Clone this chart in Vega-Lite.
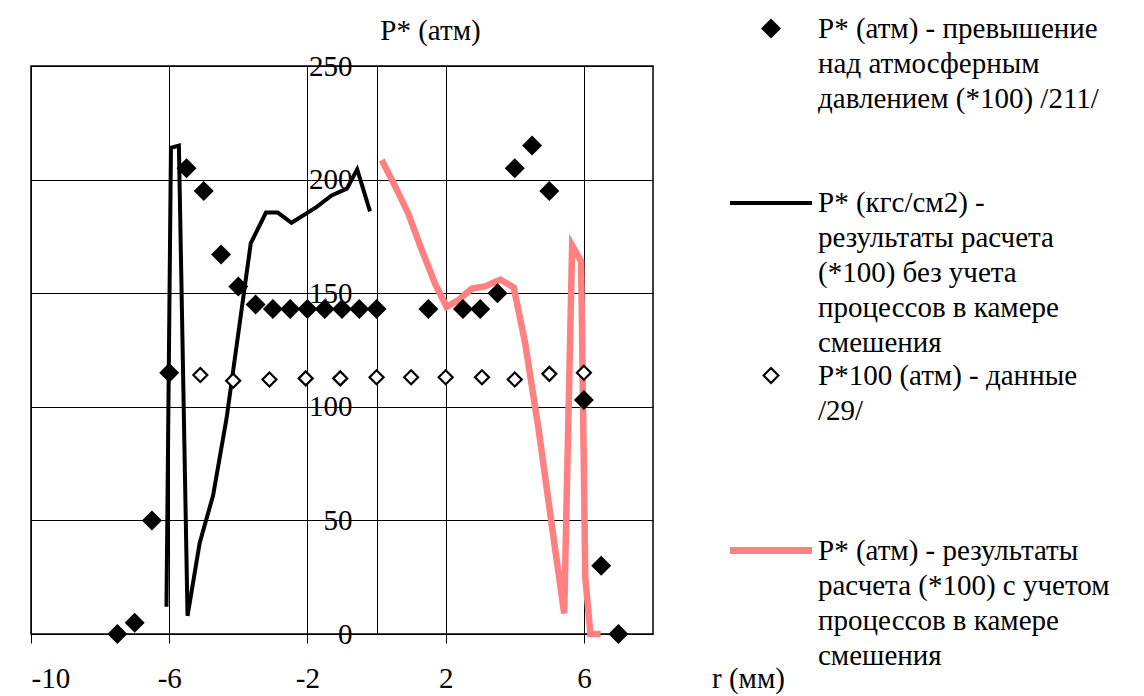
{
  "$schema": "https://vega.github.io/schema/vega-lite/v6.json",
  "width": 622,
  "height": 568,
  "autosize": {"type": "none"},
  "padding": {"left": 31, "top": 66, "right": 491, "bottom": 62},
  "background": "white",
  "config": {
    "font": "Liberation Serif",
    "view": {"stroke": "black", "strokeWidth": 1.5},
    "style": {"guide-label": {"lineHeight": 35}},
    "axis": {"labelFont": "Liberation Serif", "titleFont": "Liberation Serif", "labelFontSize": 29, "titleFontSize": 29, "titleFontWeight": "normal", "labelColor": "black", "titleColor": "black", "domainColor": "black", "tickColor": "black", "gridColor": "black", "gridOpacity": 1, "gridWidth": 1},
    "legend": {"labelFont": "Liberation Serif", "labelFontSize": 29, "labelColor": "black", "labelLimit": 500}
  },
  "datasets": {
    "pts": [
      {"s": "a", "r": -7.5, "p": 0}, {"s": "a", "r": -7, "p": 5}, {"s": "a", "r": -6.5, "p": 50}, {"s": "a", "r": -6, "p": 115},
      {"s": "a", "r": -5.5, "p": 205}, {"s": "a", "r": -5, "p": 195}, {"s": "a", "r": -4.5, "p": 167}, {"s": "a", "r": -4, "p": 153},
      {"s": "a", "r": -3.5, "p": 145}, {"s": "a", "r": -3, "p": 143}, {"s": "a", "r": -2.5, "p": 143}, {"s": "a", "r": -2, "p": 143},
      {"s": "a", "r": -1.5, "p": 143}, {"s": "a", "r": -1, "p": 143}, {"s": "a", "r": -0.5, "p": 143}, {"s": "a", "r": 0, "p": 143},
      {"s": "a", "r": 1.5, "p": 143}, {"s": "a", "r": 2.5, "p": 143}, {"s": "a", "r": 3, "p": 143}, {"s": "a", "r": 3.5, "p": 150},
      {"s": "a", "r": 4, "p": 205}, {"s": "a", "r": 4.5, "p": 215}, {"s": "a", "r": 5, "p": 195}, {"s": "a", "r": 6, "p": 103},
      {"s": "a", "r": 6.5, "p": 30}, {"s": "a", "r": 7, "p": 0}
    ],
    "open": [
      {"s": "c", "r": -6, "p": 115}, {"s": "c", "r": -5.1, "p": 114}, {"s": "c", "r": -4.15, "p": 111.5}, {"s": "c", "r": -3.1, "p": 112},
      {"s": "c", "r": -2.05, "p": 112.5}, {"s": "c", "r": -1.05, "p": 112.5}, {"s": "c", "r": 0, "p": 113}, {"s": "c", "r": 1, "p": 113},
      {"s": "c", "r": 2, "p": 113}, {"s": "c", "r": 3.05, "p": 113}, {"s": "c", "r": 4, "p": 112}, {"s": "c", "r": 5, "p": 114.5},
      {"s": "c", "r": 6, "p": 115}
    ],
    "black": [
      {"s": "b", "i": 0, "r": -6.08, "p": 12}, {"s": "b", "i": 1, "r": -5.95, "p": 214}, {"s": "b", "i": 2, "r": -5.72, "p": 215},
      {"s": "b", "i": 3, "r": -5.47, "p": 8}, {"s": "b", "i": 4, "r": -5.12, "p": 40}, {"s": "b", "i": 5, "r": -4.73, "p": 61},
      {"s": "b", "i": 6, "r": -4.34, "p": 95}, {"s": "b", "i": 7, "r": -3.64, "p": 172}, {"s": "b", "i": 8, "r": -3.2, "p": 185.5},
      {"s": "b", "i": 9, "r": -2.86, "p": 185.5}, {"s": "b", "i": 10, "r": -2.46, "p": 181}, {"s": "b", "i": 11, "r": -1.73, "p": 188},
      {"s": "b", "i": 12, "r": -1.3, "p": 193}, {"s": "b", "i": 13, "r": -0.86, "p": 196}, {"s": "b", "i": 14, "r": -0.56, "p": 204.5},
      {"s": "b", "i": 15, "r": -0.19, "p": 186}
    ],
    "pink": [
      {"s": "d", "i": 0, "r": 0.15, "p": 208.6}, {"s": "d", "i": 1, "r": 0.54, "p": 197}, {"s": "d", "i": 2, "r": 0.92, "p": 185},
      {"s": "d", "i": 3, "r": 1.31, "p": 169}, {"s": "d", "i": 4, "r": 1.7, "p": 154}, {"s": "d", "i": 5, "r": 2.03, "p": 144},
      {"s": "d", "i": 6, "r": 2.37, "p": 147}, {"s": "d", "i": 7, "r": 2.76, "p": 152}, {"s": "d", "i": 8, "r": 3.14, "p": 153},
      {"s": "d", "i": 9, "r": 3.58, "p": 156}, {"s": "d", "i": 10, "r": 3.97, "p": 152.5}, {"s": "d", "i": 11, "r": 4.3, "p": 128},
      {"s": "d", "i": 12, "r": 4.69, "p": 90}, {"s": "d", "i": 13, "r": 5.08, "p": 47}, {"s": "d", "i": 14, "r": 5.43, "p": 9},
      {"s": "d", "i": 15, "r": 5.66, "p": 171}, {"s": "d", "i": 16, "r": 5.92, "p": 164}, {"s": "d", "i": 17, "r": 6.04, "p": 25},
      {"s": "d", "i": 18, "r": 6.19, "p": 0}, {"s": "d", "i": 19, "r": 6.48, "p": 0}
    ]
  },
  "encoding": {
    "x": {"field": "r", "type": "quantitative", "scale": {"domain": [-10, 8], "nice": false, "zero": false},
      "axis": {"values": [-10, -6, -2, 2, 6], "labelExpr": "'' + datum.value", "grid": true, "domain": false, "tickSize": 9, "labelPadding": 21, "title": "r (мм)", "titleX": 717, "titleY": 44, "titleAlign": "center", "titleBaseline": "middle"}},
    "y": {"field": "p", "type": "quantitative", "scale": {"domain": [0, 250], "nice": false, "zero": true},
      "axis": {"values": [0, 50, 100, 150, 200, 250], "grid": true, "offset": -346, "tickSize": 10, "labelPadding": 15, "title": "P* (атм)", "titleAngle": 0, "titleX": 53, "titleY": -36, "titleAlign": "center", "titleBaseline": "middle"}}
  },
  "layer": [
    {
      "data": {"name": "black"},
      "mark": {"type": "line", "color": "black", "strokeWidth": 4, "opacity": 1, "strokeJoin": "miter", "strokeCap": "butt"},
      "encoding": {"order": {"field": "i"}}
    },
    {
      "data": {"name": "pink"},
      "mark": {"type": "line", "color": "#FF8080", "strokeWidth": 6.5, "opacity": 1, "strokeJoin": "miter", "strokeCap": "butt"},
      "encoding": {"order": {"field": "i"}}
    },
    {
      "data": {"name": "open"},
      "mark": {"type": "point", "shape": "diamond", "filled": false, "fill": "white", "stroke": "black", "strokeWidth": 2.2, "size": 196, "opacity": 1}
    },
    {
      "data": {"name": "pts"},
      "mark": {"type": "point", "shape": "diamond", "filled": true, "color": "black", "size": 400, "strokeWidth": 0, "opacity": 1}
    },
    {
      "data": {"name": "pts"},
      "mark": {"type": "point", "filled": true, "opacity": 0, "size": 784},
      "encoding": {
        "shape": {"field": "s", "type": "nominal", "scale": {"domain": ["a", "b", "c", "d"], "range": ["M0.965,0L1.679,-0.714L2.393,0L1.679,0.714Z", "M-1.25,0L4.607,0", "M1.15,0L1.679,-0.529L2.208,0L1.679,0.529Z", "M-1.25,0L4.607,0"]},
          "legend": {
            "title": null, "orient": "none", "legendX": 699, "legendY": -52, "padding": 0, "gridAlign": "all", "rowPadding": 0,
            "symbolSize": 784, "labelOffset": 53, "labelBaseline": "middle", "symbolOpacity": 1,
            "labelExpr": "datum.value == 'a' ? ['P* (атм) - превышение', 'над атмосферным', 'давлением (*100) /211/', '', ''] : datum.value == 'b' ? ['P* (кгс/см2) -', 'результаты расчета', '(*100) без учета', 'процессов в камере', 'смешения'] : datum.value == 'c' ? ['P*100 (атм) - данные', '/29/', '', '', ''] : ['P* (атм) - результаты', 'расчета (*100) с учетом', 'процессов в камере', 'смешения', '']"
          }},
        "fill": {"field": "s", "type": "nominal", "scale": {"domain": ["a", "b", "c", "d"], "range": ["black", "black", "white", "#FF8080"]}},
        "stroke": {"field": "s", "type": "nominal", "scale": {"domain": ["a", "b", "c", "d"], "range": ["black", "black", "black", "#FF8080"]}},
        "strokeWidth": {"field": "s", "type": "nominal", "scale": {"type": "ordinal", "domain": ["a", "b", "c", "d"], "range": [0, 4, 2.2, 7]}}
      }
    }
  ]
}
